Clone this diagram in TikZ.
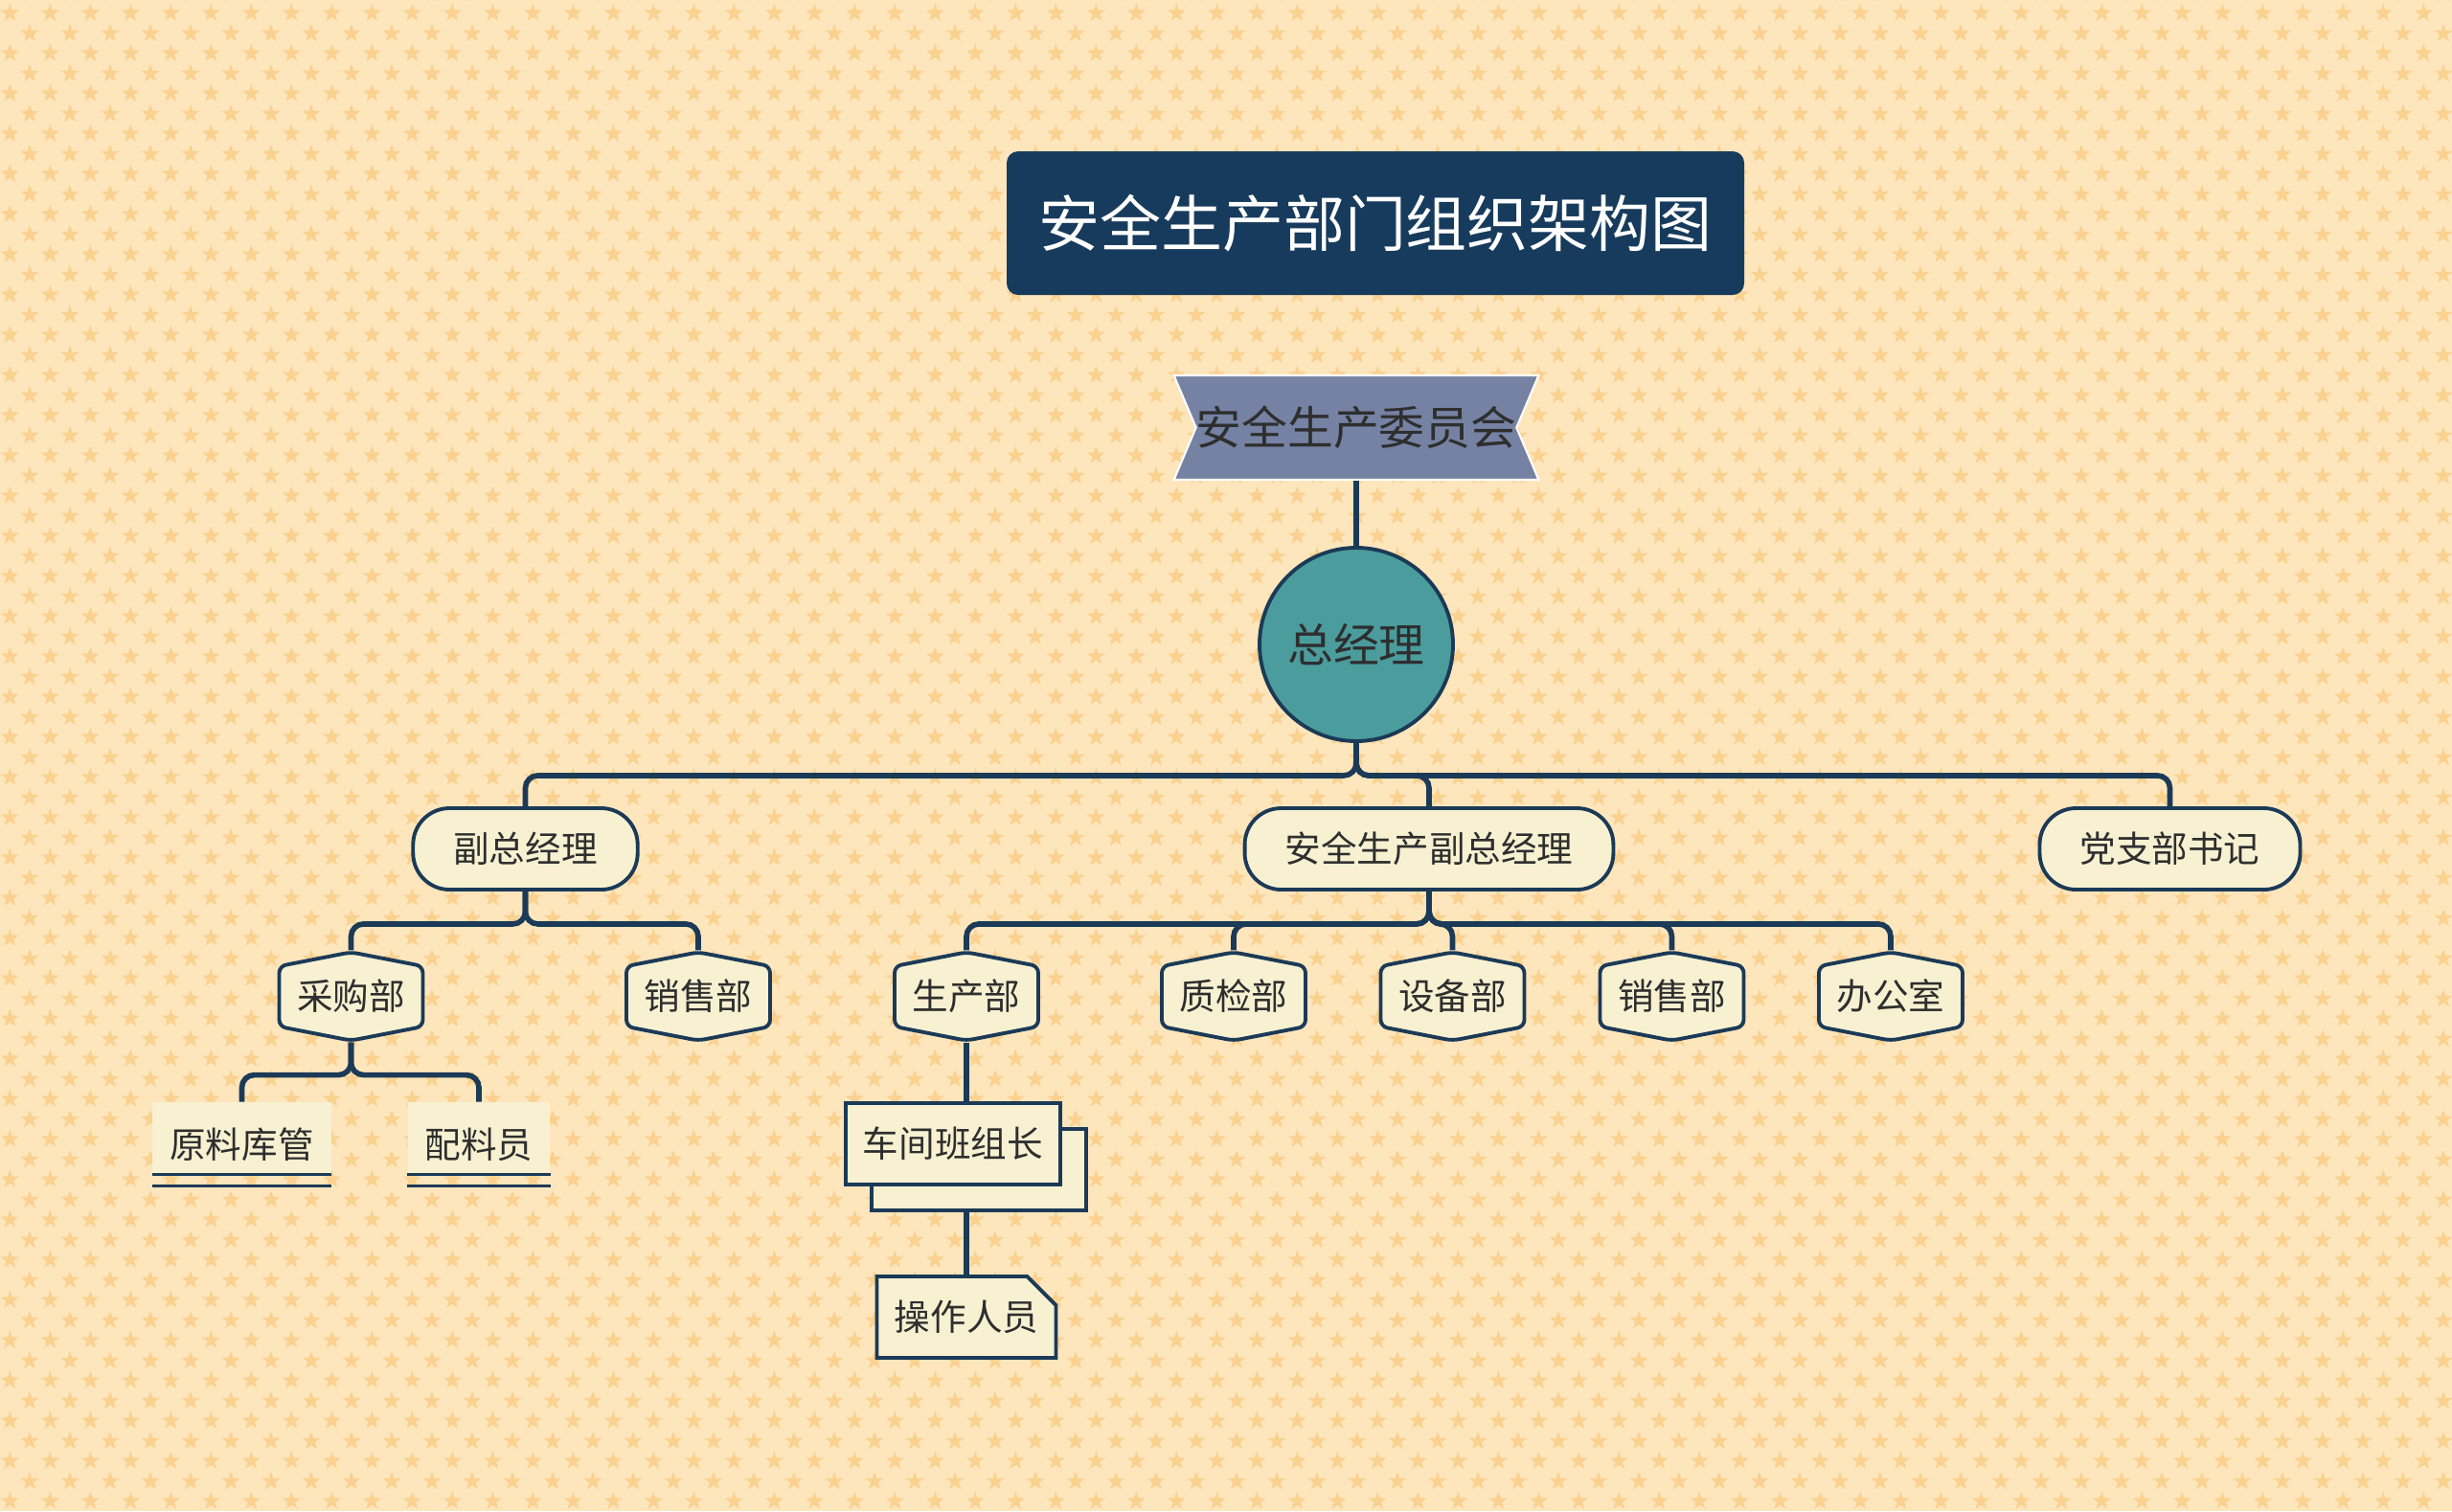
\documentclass[tikz,border=0pt]{standalone}
\usepackage{fontspec}
\setmainfont{Noto Sans CJK SC}
\usetikzlibrary{positioning,shapes.symbols,shapes.misc,shadows,patterns.meta}

\definecolor{bgpeach}{HTML}{FDE5BC}
\definecolor{starpeach}{HTML}{FAD18F}
\definecolor{navy}{HTML}{1B3A57}
\definecolor{titlefill}{HTML}{173B5C}
\definecolor{cream}{HTML}{F7F1D2}
\definecolor{slate}{HTML}{7682A3}
\definecolor{gmteal}{HTML}{4B9C9C}
\definecolor{ink}{HTML}{2E2E2E}

\newcommand{\lbl}{\fontsize{10.7pt}{12pt}\selectfont}
\newcommand{\starshape}{(90:1mm) -- (126:.4mm) -- (162:1mm) -- (198:.4mm) -- (234:1mm) -- (270:.4mm) -- (306:1mm) -- (342:.4mm) -- (18:1mm) -- (54:.4mm) -- cycle}

\tikzdeclarepattern{
  name=starry,
  type=uncolored,
  bounding box={(0,0) and (4.17mm,4.17mm)},
  tile size={(4.17mm,4.17mm)},
  code={
    \fill[shift={(1.04mm,1.04mm)}] \starshape;
    \fill[shift={(3.12mm,3.12mm)}] \starshape;
  }
}

\begin{document}
\begin{tikzpicture}[
    every node/.style={text=ink},
    titlebox/.style={rectangle, fill=titlefill, rounded corners=0.12cm, minimum width=7.7cm, minimum height=1.5cm, text=white, font=\fontsize{18.2pt}{22pt}\selectfont},
    ribbon/.style={signal, signal from=west and east, signal to=nowhere, signal pointer angle=134, fill=slate, draw=white, line width=0.6pt, minimum width=3.79cm, minimum height=1.09cm, inner sep=0pt, font=\fontsize{13.6pt}{16pt}\selectfont},
    boss/.style={circle, fill=gmteal, draw=navy, line width=1.1pt, minimum size=2.02cm, font=\fontsize{13.6pt}{16pt}\selectfont},
    pill/.style={rectangle, rounded corners=0.38cm, fill=cream, draw=navy, line width=1.1pt, minimum height=0.85cm, inner xsep=0.42cm, font=\lbl},
    hexbox/.style={signal, signal to=north and south, signal from=nowhere, signal pointer angle=158, rounded corners=2pt, fill=cream, draw=navy, line width=1.1pt, minimum width=1.5cm, minimum height=0.85cm, inner sep=0pt, font=\lbl},
    ulbox/.style={rectangle, fill=cream, minimum height=0.73cm, inner xsep=0.18cm, text height=0.46cm, text depth=0.05cm, font=\lbl},
    stackbox/.style={rectangle, fill=cream, draw=navy, line width=1.1pt, minimum width=2.24cm, minimum height=0.85cm, copy shadow={shadow xshift=0.27cm, shadow yshift=-0.27cm}, font=\lbl},
    notebox/.style={chamfered rectangle, chamfered rectangle corners=north east, chamfered rectangle xsep=0.26cm, fill=cream, draw=navy, line width=1.1pt, minimum width=1.87cm, minimum height=0.85cm, inner sep=0pt, font=\lbl},
    link/.style={draw=navy, line width=1.6pt, rounded corners=0.13cm},
    uline/.style={draw=navy, line width=1.1pt}
]
\useasboundingbox (0,0) rectangle (25.6,-15.78);

% background
\fill[bgpeach] (0,0) rectangle (25.6,-15.78);
\fill[pattern=starry, pattern color=starpeach] (0,0) rectangle (25.6,-15.78);

% title and top of the tree
\node[titlebox] (title) at (14.36,-2.33) {安全生产部门组织架构图};
\node[ribbon] (cmte) at (14.16,-4.465) {安全生产委员会};
\node[boss] (gm) at (14.16,-6.73) {总经理};

% second level
\node[pill] (vp1) at (5.485,-8.865) {副总经理};
\node[pill] (vp2) at (14.92,-8.865) {安全生产副总经理};
\node[pill] (party) at (22.655,-8.865) {党支部书记};

% departments
\node[hexbox] (buy) at (3.665,-10.405) {采购部};
\node[hexbox] (sale1) at (7.29,-10.405) {销售部};
\node[hexbox] (prod) at (10.09,-10.405) {生产部};
\node[hexbox] (qc) at (12.88,-10.405) {质检部};
\node[hexbox] (equip) at (15.165,-10.405) {设备部};
\node[hexbox] (sale2) at (17.455,-10.405) {销售部};
\node[hexbox] (office) at (19.74,-10.405) {办公室};

% staff
\node[ulbox] (store) at (2.525,-11.885) {原料库管};
\node[ulbox] (mixer) at (5.0,-11.885) {配料员};
\node[stackbox] (shift) at (9.95,-11.945) {车间班组长};
\node[notebox] (oper) at (10.09,-13.755) {操作人员};

% underlines
\draw[uline] (store.south west) -- (store.south east);
\draw[uline] ([yshift=-0.12cm]store.south west) -- ([yshift=-0.12cm]store.south east);
\draw[uline] (mixer.south west) -- (mixer.south east);
\draw[uline] ([yshift=-0.12cm]mixer.south west) -- ([yshift=-0.12cm]mixer.south east);

% connectors
\draw[link] (cmte.south) -- (gm.north);
\foreach \n in {vp1,vp2,party}
  \draw[link] (gm.south) -- ++(0,-0.34) -| (\n.north);
\foreach \n in {buy,sale1}
  \draw[link] (vp1.south) -- ++(0,-0.34) -| (\n.north);
\foreach \n in {prod,qc,equip,sale2,office}
  \draw[link] (vp2.south) -- ++(0,-0.34) -| (\n.north);
\foreach \n in {store,mixer}
  \draw[link] (buy.south) -- ++(0,-0.34) -| (\n.north);
\draw[link] (prod.south) -- (prod.south |- shift.north);
\draw[link] ([yshift=-0.27cm]shift.south -| oper.north) -- (oper.north);

\end{tikzpicture}
\end{document}
